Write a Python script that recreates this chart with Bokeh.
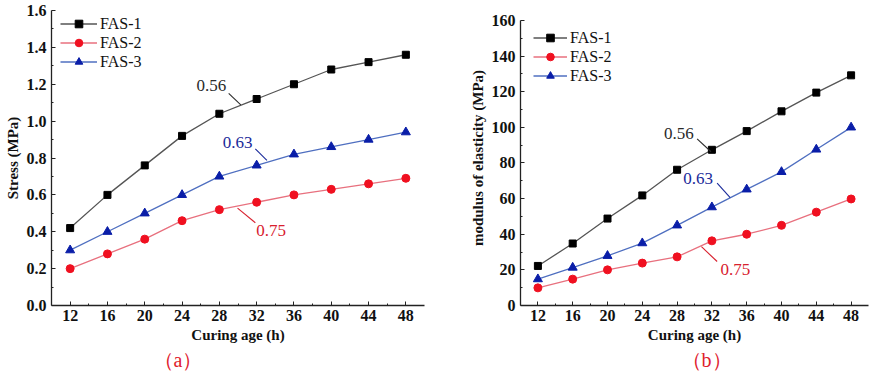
from bokeh.plotting import figure
from bokeh.layouts import row
from bokeh.models import (FixedTicker, Legend, LegendItem, Label, Title,
                          Range1d, CustomJSTickFormatter)
from bokeh.embed import file_html
from bokeh.resources import INLINE

# ---------------- data ----------------
ages = [12, 16, 20, 24, 28, 32, 36, 40, 44, 48]
age_minor = [14, 18, 22, 26, 30, 34, 38, 42, 46]

stress_fas1 = [0.42, 0.60, 0.76, 0.92, 1.04, 1.12, 1.20, 1.28, 1.32, 1.36]
stress_fas2 = [0.20, 0.28, 0.36, 0.46, 0.52, 0.56, 0.60, 0.63, 0.66, 0.69]
stress_fas3 = [0.30, 0.40, 0.50, 0.60, 0.70, 0.76, 0.82, 0.86, 0.90, 0.94]

modulus_fas1 = [22.2, 34.8, 48.8, 61.8, 76.2, 87.4, 97.9, 109.0, 119.5, 129.2]
modulus_fas2 = [9.9, 14.8, 20.0, 23.8, 27.3, 36.3, 40.0, 45.0, 52.4, 59.8]
modulus_fas3 = [14.8, 21.3, 27.9, 35.0, 45.0, 55.2, 65.2, 75.0, 87.6, 100.0]

stress_ticks = [0.0, 0.2, 0.4, 0.6, 0.8, 1.0, 1.2, 1.4, 1.6]
stress_minor = [0.1, 0.3, 0.5, 0.7, 0.9, 1.1, 1.3, 1.5]
modulus_ticks = [0, 20, 40, 60, 80, 100, 120, 140, 160]
modulus_minor = [10, 30, 50, 70, 90, 110, 130, 150]

series_names = ["FAS-1", "FAS-2", "FAS-3"]
ratio_labels = ["0.56", "0.63", "0.75"]
panel_tags = ["（a）", "（b）"]

# annotation anchors (data coordinates): text left-middle, leader start/end
stress_note_x = [25.55, 28.36, 31.96]
stress_note_y = [1.193, 0.882, 0.407]
stress_lead_x0 = [29.0, 31.86, 29.95]
stress_lead_y0 = [1.151, 0.850, 0.528]
stress_lead_x1 = [30.3, 33.1, 31.86]
stress_lead_y1 = [1.088, 0.787, 0.449]

modulus_note_x = [26.5, 28.7, 33.0]
modulus_note_y = [96.8, 71.5, 20.3]
modulus_lead_x0 = [30.3, 32.6, 30.8]
modulus_lead_y0 = [93.5, 68.7, 33.0]
modulus_lead_x1 = [31.9, 34.1, 32.6]
modulus_lead_y1 = [86.3, 60.5, 24.7]

# ---------------- styles ----------------
FONT = "Liberation Serif"
line_colors = ["#555555", "#e8707e", "#4f6fc0"]
marker_colors = ["#000000", "#f01020", "#0a1ea8"]
markers = ["square", "circle", "triangle"]
marker_sizes = [7, 8, 9]
note_colors = ["#2a2a2a", "#1a2a9a", "#d8202e"]   # 0.56, 0.63, 0.75


def make_panel(width, height, border_left, border_right, border_top,
               yr, ybounds, yticks, yminor, ylabel, series, fmt, notes, leads,
               legend_pos, glyph_w, tag, tag_offset):
    p = figure(width=width, height=height, output_backend="svg",
               toolbar_location=None, x_range=Range1d(10, 50), y_range=Range1d(*yr),
               min_border_left=border_left, min_border_right=border_right,
               min_border_top=border_top, min_border_bottom=0)
    p.outline_line_color = None
    p.xgrid.visible = False
    p.ygrid.visible = False

    p.xaxis.ticker = FixedTicker(ticks=ages, minor_ticks=age_minor)
    p.yaxis.ticker = FixedTicker(ticks=yticks, minor_ticks=yminor)
    p.yaxis.formatter = CustomJSTickFormatter(code=fmt)
    p.yaxis.bounds = ybounds
    for ax in (p.xaxis[0], p.yaxis[0]):
        ax.axis_line_color = "#222222"
        ax.axis_line_width = 1.3
        ax.major_tick_line_color = "#222222"
        ax.minor_tick_line_color = "#222222"
        ax.major_tick_in = 4
        ax.major_tick_out = 0
        ax.minor_tick_in = 2
        ax.minor_tick_out = 0
        ax.major_label_text_font = FONT
        ax.major_label_text_font_style = "bold"
        ax.major_label_text_font_size = "16px"
        ax.major_label_text_color = "#111111"
        ax.axis_label_text_font = FONT
        ax.axis_label_text_font_style = "bold"
        ax.axis_label_text_font_size = "15px"
        ax.axis_label_text_color = "#111111"
    p.xaxis.axis_label = "Curing age (h)"
    p.xaxis.major_label_standoff = 4
    p.xaxis.axis_label_standoff = 3
    p.yaxis.axis_label = ylabel
    p.yaxis.major_label_standoff = 5
    p.yaxis.axis_label_standoff = 3

    items = []
    for i, ys in enumerate(series):
        ln = p.line(ages, ys, line_color=line_colors[i], line_width=1.3)
        sc = p.scatter(ages, ys, marker=markers[i], size=marker_sizes[i],
                       fill_color=marker_colors[i], line_color=marker_colors[i])
        items.append(LegendItem(label=series_names[i], renderers=[ln, sc]))

    legend = Legend(items=items, location=legend_pos, padding=0, margin=0,
                    spacing=0, glyph_width=glyph_w, glyph_height=19,
                    label_height=19, label_standoff=3,
                    label_text_font=FONT, label_text_font_size="16px",
                    label_text_color="#111111",
                    background_fill_alpha=0, border_line_color=None)
    p.add_layout(legend)

    nx, ny, tx = notes
    lx0, ly0, lx1, ly1 = leads
    for i in range(3):
        c = note_colors[i]
        p.segment(x0=[lx0[i]], y0=[ly0[i]], x1=[lx1[i]], y1=[ly1[i]],
                  line_color=c, line_width=1.1)
        p.add_layout(Label(x=nx[i], y=ny[i], text=tx[i], text_font=FONT,
                           text_font_size="17px", text_color=c,
                           text_baseline="middle", text_align="left"))

    p.add_layout(Title(text=tag, align="left", offset=tag_offset, standoff=3,
                       text_font=FONT, text_font_size="20px",
                       text_font_style="normal", text_color="#e0202c"), "below")
    return p


p1 = make_panel(428, 372, 51, 4, 10, (0, 1.6), (0, 1.6),
                stress_ticks, stress_minor,
                "Stress (MPa)", [stress_fas1, stress_fas2, stress_fas3],
                "return tick.toFixed(1);",
                (stress_note_x, stress_note_y, ratio_labels),
                (stress_lead_x0, stress_lead_y0, stress_lead_x1, stress_lead_y1),
                (9, 234), 37, panel_tags[0], 102)

p2 = make_panel(442, 372, 92, 2, 10, (0, 165.6), (0, 160),
                modulus_ticks, modulus_minor,
                "modulus of elasticity (MPa)",
                [modulus_fas1, modulus_fas2, modulus_fas3],
                "return tick.toFixed(0);",
                (modulus_note_x, modulus_note_y, ratio_labels),
                (modulus_lead_x0, modulus_lead_y0, modulus_lead_x1, modulus_lead_y1),
                (13, 220), 34, panel_tags[1], 161)

layout = row(p1, p2)
open("out.html", "w").write(file_html(layout, INLINE))
